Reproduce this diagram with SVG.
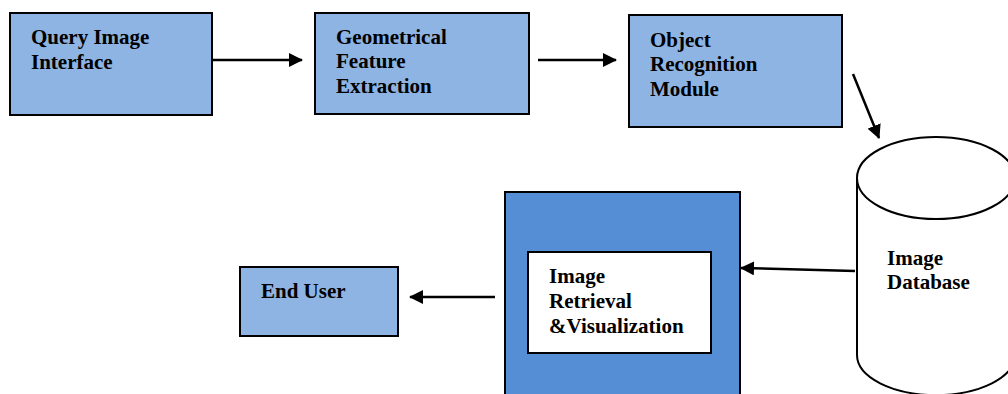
<svg xmlns="http://www.w3.org/2000/svg" width="1008" height="394" viewBox="0 0 1008 394">
<style>
.box{fill:#8EB4E3;stroke:#000;stroke-width:2}
.t{font-family:"Liberation Serif",serif;font-weight:bold;font-size:21px;fill:#000}
.c{stroke:#000;stroke-width:2.5;fill:none}
</style>
<defs>
<marker id="ah2" markerWidth="14" markerHeight="14" refX="13" refY="7" orient="auto" markerUnits="userSpaceOnUse" viewBox="0 0 14 14">
<path d="M0,0 L14,7 L0,14 Z" fill="#000"/>
</marker>
</defs>
<rect width="1008" height="394" fill="#fff"/>
<g id="query">
<rect class="box" x="10" y="13" width="202" height="102"/>
<text class="t" x="31" y="44">Query Image</text>
<text class="t" x="31" y="69">Interface</text>
</g>
<g id="geometrical">
<rect class="box" x="315" y="13" width="214" height="101"/>
<text class="t" x="336" y="44">Geometrical</text>
<text class="t" x="336" y="68">Feature</text>
<text class="t" x="336" y="93">Extraction</text>
</g>
<g id="object">
<rect class="box" x="629" y="15" width="213" height="112"/>
<text class="t" x="650" y="47">Object</text>
<text class="t" x="650" y="71">Recognition</text>
<text class="t" x="650" y="96">Module</text>
</g>
<g id="database">
<path d="M857,178 L857,355 A79,40 0 0 0 1015,355 L1015,178" fill="#fff" stroke="#000" stroke-width="2"/>
<ellipse cx="936" cy="178" rx="79" ry="41" fill="#fff" stroke="#000" stroke-width="2"/>
<text class="t" x="887" y="265">Image</text>
<text class="t" x="887" y="289">Database</text>
</g>
<g id="retrieval">
<rect x="505" y="192" width="235" height="210" fill="#558ED5" stroke="#000" stroke-width="2"/>
<rect x="528" y="252" width="183" height="101" fill="#fff" stroke="#000" stroke-width="2"/>
<text class="t" x="549" y="283">Image</text>
<text class="t" x="549" y="308">Retrieval</text>
<text class="t" x="549" y="333">&amp;Visualization</text>
</g>
<g id="enduser">
<rect class="box" x="240" y="267" width="158" height="69"/>
<text class="t" x="261" y="298">End User</text>
</g>
<g id="connectors">
<line class="c" x1="212" y1="60" x2="302" y2="60" marker-end="url(#ah2)"/>
<line class="c" x1="538" y1="60" x2="616" y2="60" marker-end="url(#ah2)"/>
<line class="c" x1="853" y1="74" x2="879" y2="138" marker-end="url(#ah2)"/>
<line class="c" x1="855" y1="271" x2="741" y2="268" marker-end="url(#ah2)"/>
<line class="c" x1="495" y1="297" x2="410" y2="297" marker-end="url(#ah2)"/>
</g>
</svg>
